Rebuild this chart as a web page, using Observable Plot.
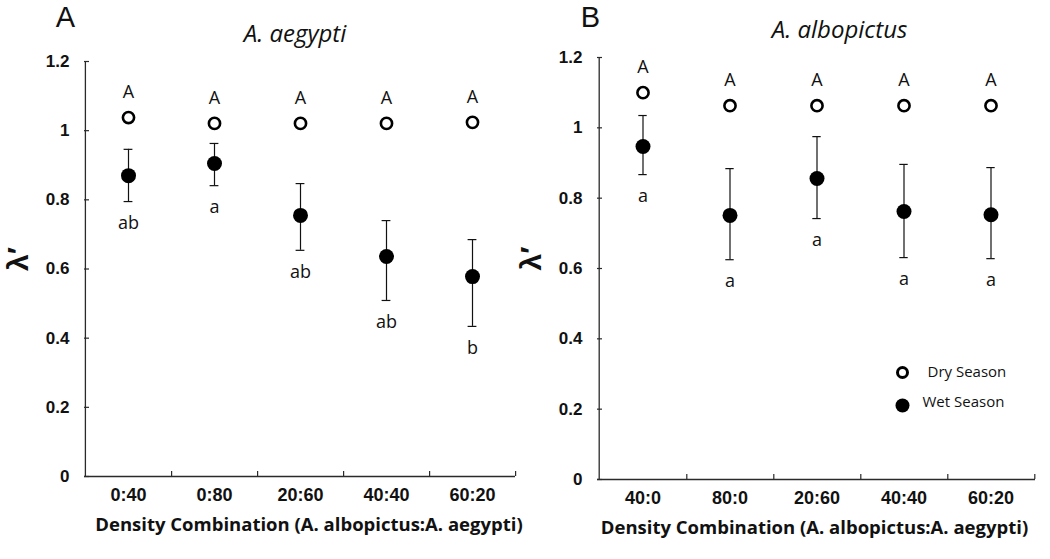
<!DOCTYPE html>
<html><head><meta charset="utf-8">
<script src="https://cdn.jsdelivr.net/npm/d3@7"></script>
<script src="https://cdn.jsdelivr.net/npm/@observablehq/plot@0.6"></script>
<style>
html,body{margin:0;padding:0;background:#fff;}
#wrap{display:flex;width:1050px;height:559px;overflow:hidden;}
#wrap svg{flex:none;}
</style></head><body><div id="wrap"></div>
<script>
// ---- Panel A: A. aegypti ----
const categoriesA = ["0:40", "0:80", "20:60", "40:40", "60:20"];
const dryA = [1.038, 1.021, 1.021, 1.021, 1.024];
const wetA = [0.870, 0.905, 0.755, 0.636, 0.578];
const wetLowA = [0.795, 0.841, 0.654, 0.509, 0.434];
const wetHighA = [0.946, 0.963, 0.847, 0.740, 0.685];
const dryLettersA = ["A", "A", "A", "A", "A"];
const wetLettersA = ["ab", "a", "ab", "ab", "b"];

// ---- Panel B: A. albopictus ----
const categoriesB = ["40:0", "80:0", "20:60", "40:40", "60:20"];
const dryB = [1.100, 1.063, 1.063, 1.063, 1.063];
const wetB = [0.947, 0.751, 0.856, 0.762, 0.753];
const wetLowB = [0.867, 0.625, 0.742, 0.631, 0.628];
const wetHighB = [1.035, 0.884, 0.975, 0.896, 0.887];
const dryLettersB = ["A", "A", "A", "A", "A"];
const wetLettersB = ["a", "a", "a", "a", "a"];

const yTicks = [0, 0.2, 0.4, 0.6, 0.8, 1, 1.2];
const yLabel = "λ′";
const xLabel = "Density Combination (A. albopictus:A. aegypti)";
const legendLabels = ["Dry Season", "Wet Season"];

const SANS = "'Open Sans', Lato, sans-serif";
const ARIAL = "'Liberation Sans', Arial, sans-serif";
const AX = "#2a2a2a";

function panel(cfg) {
  const W = 525, H = 559;
  const {ml, mr, mt, mb, cats, dry, wet, lo, hi, dl, wl, letter, title, legend, titleDx, letterDx, letterDy, xlabDx} = cfg;
  const fw = W - ml - mr, fh = H - mt - mb;
  const bw = fw / cats.length;
  const capInset = (bw - 9) / 2;
  const marks = [
    // axis lines
    Plot.ruleY([0], {stroke: AX, strokeWidth: 1.3}),
    Plot.ruleX([cats[0]], {dx: -bw / 2, stroke: AX, strokeWidth: 1.3}),
    // inward ticks
    Plot.ruleY(yTicks, {y: d => d, insetRight: fw - 5, stroke: AX, strokeWidth: 1.2}),
    Plot.ruleX(cats, {x: d => d, dx: bw / 2, insetTop: fh - 5, stroke: AX, strokeWidth: 1.2}),
    Plot.axisY({ticks: yTicks, tickSize: 0, tickPadding: 15, tickFormat: d => String(d), label: null,
      fontSize: 17, fontWeight: "bold", fontFamily: ARIAL, fill: "#111"}),
    Plot.axisX({tickSize: 0, tickPadding: 12, label: null,
      fontSize: 18, fontWeight: "bold", fontFamily: ARIAL, fill: "#111"}),
    // error bars
    Plot.ruleX(cats, {x: cats, y1: lo, y2: hi, stroke: "#111", strokeWidth: 1.2}),
    Plot.tickY(cats, {x: cats, y: lo, insetLeft: capInset, insetRight: capInset, stroke: "#111", strokeWidth: 1.2}),
    Plot.tickY(cats, {x: cats, y: hi, insetLeft: capInset, insetRight: capInset, stroke: "#111", strokeWidth: 1.2}),
    // points
    Plot.dot(cats, {x: cats, y: wet, r: 7.5, fill: "#000", stroke: "none"}),
    Plot.dot(cats, {x: cats, y: dry, r: 5.6, fill: "#fff", stroke: "#000", strokeWidth: 2.6}),
    // letters
    Plot.text(cats, {x: cats, y: dry, text: dl, dy: -25, fontSize: 18, fontFamily: SANS, fill: "#111"}),
    Plot.text(cats, {x: cats, y: lo, text: wl, dy: 22, fontSize: 18, fontFamily: SANS, fill: "#111"}),
    // panel letter & title
    Plot.text([letter], {frameAnchor: "top-left", lineAnchor: "middle", dx: letterDx, dy: letterDy, fontSize: 29, fontFamily: ARIAL, fill: "#111", textAnchor: "middle"}),
    Plot.text([title], {frameAnchor: "top", lineAnchor: "middle", dx: titleDx, dy: -27, fontSize: 24, fontStyle: "italic", fontFamily: SANS, fill: "#111"}),
    // axis labels
    Plot.text([yLabel], {frameAnchor: "left", lineAnchor: "middle", dx: -66, dy: 2, rotate: -90, fontSize: 30, fontWeight: "bold", fontFamily: ARIAL, fill: "#111"}),
    Plot.text([xLabel], {frameAnchor: "bottom", lineAnchor: "middle", dx: xlabDx, dy: 49, fontSize: 18.5, fontWeight: "bold", fontFamily: SANS, fill: "#111"})
  ];
  if (legend) {
    const lx = 305, ly0 = 315, ly1 = 348;
    marks.push(
      Plot.dot([legendLabels[0]], {frameAnchor: "top-left", dx: lx, dy: ly0, r: 5, fill: "#fff", stroke: "#000", strokeWidth: 3}),
      Plot.dot([legendLabels[1]], {frameAnchor: "top-left", dx: lx, dy: ly1, r: 7, fill: "#000", stroke: "none"}),
      Plot.text([legendLabels[0]], {frameAnchor: "top-left", lineAnchor: "middle", dx: lx + 25, dy: ly0, text: d => d, textAnchor: "start", fontSize: 15, fontFamily: SANS, fill: "#111"}),
      Plot.text([legendLabels[1]], {frameAnchor: "top-left", lineAnchor: "middle", dx: lx + 20, dy: ly1 - 3, text: d => d, textAnchor: "start", fontSize: 15, fontFamily: SANS, fill: "#111"})
    );
  }
  return Plot.plot({
    width: W, height: H,
    marginLeft: ml, marginRight: mr, marginTop: mt, marginBottom: mb,
    style: {background: "#fff", overflow: "visible"},
    x: {type: "band", domain: cats, padding: 0, axis: null},
    y: {domain: [0, 1.2], axis: null},
    marks
  });
}

const wrap = document.getElementById("wrap");
wrap.appendChild(panel({ml: 84, mr: 10, mt: 61, mb: 83, cats: categoriesA, dry: dryA, wet: wetA, lo: wetLowA, hi: wetHighA,
  dl: dryLettersA, wl: wetLettersA, letter: "A", title: "A. aegypti", legend: false,
  titleDx: -5, letterDx: -19, letterDy: -44, xlabDx: 9}));
wrap.appendChild(panel({ml: 72, mr: 15, mt: 57, mb: 80, cats: categoriesB, dry: dryB, wet: wetB, lo: wetLowB, hi: wetHighB,
  dl: dryLettersB, wl: wetLettersB, letter: "B", title: "A. albopictus", legend: true,
  titleDx: 23, letterDx: -7, letterDy: -40, xlabDx: -2}));
</script>
</body></html>
